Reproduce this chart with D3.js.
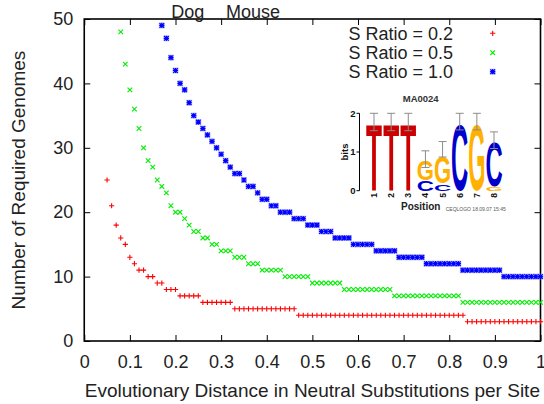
<!DOCTYPE html>
<html>
<head>
<meta charset="utf-8">
<script src="https://cdn.jsdelivr.net/npm/d3@7"></script>
<style>
body { margin: 0; background: #fff; }
svg { display: block; font-family: "Liberation Sans", Arial, Helvetica, sans-serif; }
</style>
</head>
<body>
<svg id="chart" width="544" height="404"></svg>
<script>
var distances = [
  0.05, 0.06, 0.07, 0.08, 0.09, 0.10, 0.11, 0.12, 0.13, 0.14,
  0.15, 0.16, 0.17, 0.18, 0.19, 0.20, 0.21, 0.22, 0.23, 0.24,
  0.25, 0.26, 0.27, 0.28, 0.29, 0.30, 0.31, 0.32, 0.33, 0.34,
  0.35, 0.36, 0.37, 0.38, 0.39, 0.40, 0.41, 0.42, 0.43, 0.44,
  0.45, 0.46, 0.47, 0.48, 0.49, 0.50, 0.51, 0.52, 0.53, 0.54,
  0.55, 0.56, 0.57, 0.58, 0.59, 0.60, 0.61, 0.62, 0.63, 0.64,
  0.65, 0.66, 0.67, 0.68, 0.69, 0.70, 0.71, 0.72, 0.73, 0.74,
  0.75, 0.76, 0.77, 0.78, 0.79, 0.80, 0.81, 0.82, 0.83, 0.84,
  0.85, 0.86, 0.87, 0.88, 0.89, 0.90, 0.91, 0.92, 0.93, 0.94,
  0.95, 0.96, 0.97, 0.98, 0.99, 1.00
];
var ratio02 = [
  25, 21, 18, 16, 15, 13, 12, 11, 11, 10,
  10, 9, 9, 8, 8, 8, 7, 7, 7, 7,
  7, 6, 6, 6, 6, 6, 6, 6, 5, 5,
  5, 5, 5, 5, 5, 5, 5, 5, 5, 5,
  5, 5, 4, 4, 4, 4, 4, 4, 4, 4,
  4, 4, 4, 4, 4, 4, 4, 4, 4, 4,
  4, 4, 4, 4, 4, 4, 4, 4, 4, 4,
  4, 4, 4, 4, 4, 4, 4, 4, 4, 3,
  3, 3, 3, 3, 3, 3, 3, 3, 3, 3,
  3, 3, 3, 3, 3, 3
];
var ratio05 = [
  null, null, null, 48, 43, 39, 36, 33, 30, 28,
  27, 25, 24, 23, 21, 20, 20, 19, 18, 17,
  17, 16, 16, 15, 15, 14, 14, 14, 13, 13,
  13, 12, 12, 12, 11, 11, 11, 11, 11, 10,
  10, 10, 10, 10, 10, 9, 9, 9, 9, 9,
  9, 9, 8, 8, 8, 8, 8, 8, 8, 8,
  8, 8, 8, 7, 7, 7, 7, 7, 7, 7,
  7, 7, 7, 7, 7, 7, 7, 7, 6, 6,
  6, 6, 6, 6, 6, 6, 6, 6, 6, 6,
  6, 6, 6, 6, 6, 6
];
var ratio10 = [
  null, null, null, null, null, null, null, null, null, null,
  null, null, 49, 47, 44, 42, 40, 39, 37, 35,
  34, 33, 32, 31, 30, 29, 28, 27, 26, 26,
  25, 24, 24, 23, 22, 22, 21, 21, 20, 20,
  20, 19, 19, 19, 18, 18, 18, 17, 17, 17,
  16, 16, 16, 16, 15, 15, 15, 15, 15, 14,
  14, 14, 14, 14, 13, 13, 13, 13, 13, 13,
  12, 12, 12, 12, 12, 12, 12, 12, 11, 11,
  11, 11, 11, 11, 11, 11, 11, 10, 10, 10,
  10, 10, 10, 10, 10, 10
];
var seriesNames = ["S Ratio = 0.2", "S Ratio = 0.5", "S Ratio = 1.0"];
var xTicks = [0, 0.1, 0.2, 0.3, 0.4, 0.5, 0.6, 0.7, 0.8, 0.9, 1];
var yTicks = [0, 10, 20, 30, 40, 50];
var topLabels = ["Dog", "Mouse"];
var topLabelDistances = [0.227, 0.370];

// sequence logo inset (letters stacked bottom to top, heights in bits)
var logoTitle = "MA0024";
var logoPositions = [1, 2, 3, 4, 5, 6, 7, 8];
var logoStacks = [
  [["T", 1.76]],
  [["T", 1.76]],
  [["T", 1.76]],
  [["C", 0.27], ["G", 0.53]],
  [["C", 0.19], ["G", 0.70]],
  [["C", 1.76]],
  [["G", 1.76]],
  [["G", 0.10], ["C", 1.21]]
];
var logoErrLow = [1.55, 1.55, 1.55, 0.60, 0.87, 1.57, 1.57, 1.09];
var logoErrHigh = [2.0, 2.0, 2.0, 1.03, 1.27, 2.0, 2.0, 1.52];
var logoTicks = [0, 1, 2];

var seriesColors = ["#ff0000", "#00ee00", "#0000ff"];
var letterColors = { T: "#cc0000", C: "#0000cc", G: "#ffb000" };
var textColor = "#222";

var svg = d3.select("#chart");
var plotL = 84.25, plotR = 540.5, plotT = 19, plotB = 341;

var x = d3.scaleLinear().domain([0, 1]).range([plotL, plotR]);
var y = d3.scaleLinear().domain([0, 50]).range([plotB, plotT]);

function styleAxis(g) {
  g.attr("font-size", 18).attr("font-family", null);
  g.select(".domain").remove();
  g.selectAll(".tick line").attr("stroke", "#000").attr("stroke-width", 1);
  g.selectAll(".tick text").attr("fill", textColor);
}

svg.append("g")
    .attr("transform", "translate(0," + plotB + ")")
    .call(d3.axisBottom(x).tickValues(xTicks).tickFormat(d3.format("~g"))
      .tickSizeInner(-6).tickSizeOuter(0).tickPadding(14))
    .call(styleAxis);

svg.append("g")
    .attr("transform", "translate(" + plotL + ",0)")
    .call(d3.axisLeft(y).tickValues(yTicks)
      .tickSizeInner(-6).tickSizeOuter(0).tickPadding(11))
    .call(styleAxis);

svg.append("g")
    .attr("transform", "translate(0," + plotT + ")")
    .call(d3.axisTop(x).tickValues(xTicks).tickFormat("")
      .tickSizeInner(-6).tickSizeOuter(0))
    .call(styleAxis);

svg.append("g")
    .attr("transform", "translate(" + plotR + ",0)")
    .call(d3.axisRight(y).tickValues(yTicks).tickFormat("")
      .tickSizeInner(-6).tickSizeOuter(0))
    .call(styleAxis);

svg.append("rect")
    .attr("x", plotL).attr("y", plotT)
    .attr("width", plotR - plotL).attr("height", plotB - plotT)
    .attr("fill", "none").attr("stroke", "#000").attr("stroke-width", 1.6);

svg.append("text")
    .attr("x", (plotL + plotR) / 2).attr("y", 390)
    .attr("dy", "0.35em")
    .attr("text-anchor", "middle")
    .attr("font-size", 19).attr("fill", textColor)
    .text("Evolutionary Distance in Neutral Substitutions per Site");

svg.append("text")
    .attr("transform", "translate(18," + (plotT + plotB) / 2 + ") rotate(-90)")
    .attr("dy", "0.35em")
    .attr("text-anchor", "middle")
    .attr("font-size", 19).attr("fill", textColor)
    .text("Number of Required Genomes");

svg.selectAll(".toplabel")
    .data(topLabels)
    .enter().append("text")
    .attr("class", "toplabel")
    .attr("x", function(d, i) { return x(topLabelDistances[i]); })
    .attr("y", 18)
    .attr("text-anchor", "middle")
    .attr("font-size", 18).attr("fill", textColor)
    .text(function(d) { return d; });

var plusPath = "M-2.6,0H2.6M0,-2.6V2.6";
var crossPath = "M-2.3,-2.3L2.3,2.3M-2.3,2.3L2.3,-2.3";
var starPath = plusPath + crossPath;

function drawMarker(g, kind, color) {
  if (kind == 2) {
    g.append("rect")
        .attr("x", -3).attr("y", -3).attr("width", 6).attr("height", 6)
        .attr("fill", "#8a90ff").attr("opacity", 0.5);
  }
  g.append("path")
      .attr("d", kind == 0 ? plusPath : (kind == 1 ? crossPath : starPath))
      .attr("fill", "none")
      .attr("stroke", color)
      .attr("stroke-width", kind == 2 ? 1.2 : 1.1);
}

var allSeries = [ratio02, ratio05, ratio10];
allSeries.forEach(function(values, s) {
  var pts = [];
  for (var i = 0; i < distances.length; i++) {
    if (values[i] != null) pts.push({ d: distances[i], v: values[i] });
  }
  var grp = svg.append("g");
  grp.selectAll("g")
      .data(pts)
      .enter().append("g")
      .attr("transform", function(p) { return "translate(" + x(p.d) + "," + y(p.v) + ")"; })
      .each(function() { drawMarker(d3.select(this), s, seriesColors[s]); });
});

var legendY = [33.3, 52.7, 71.7];
seriesNames.forEach(function(name, s) {
  svg.append("text")
      .attr("x", 453).attr("y", legendY[s])
      .attr("dy", "0.35em")
      .attr("text-anchor", "end")
      .attr("font-size", 18).attr("fill", textColor)
      .text(name);
  var m = svg.append("g").attr("transform", "translate(492.7," + legendY[s] + ")");
  drawMarker(m, s, seriesColors[s]);
});

// logo
var logo = svg.append("g").attr("font-weight", "bold");
var lx = d3.scaleLinear().domain([1, 8]).range([374, 494]);
var ly = d3.scaleLinear().domain([0, 2]).range([190.7, 113.3]);
var colW = 15.5;

logo.append("text")
    .attr("x", 420.7).attr("y", 98.3).attr("dy", "0.35em")
    .attr("text-anchor", "middle").attr("font-size", 9.5).attr("fill", "#333")
    .text(logoTitle);

logo.append("line")
    .attr("x1", 359.5).attr("x2", 359.5)
    .attr("y1", ly(2)).attr("y2", ly(0))
    .attr("stroke", "#000").attr("stroke-width", 1);

logoTicks.forEach(function(t) {
  logo.append("line")
      .attr("x1", 356.5).attr("x2", 359.5)
      .attr("y1", ly(t)).attr("y2", ly(t))
      .attr("stroke", "#000").attr("stroke-width", 1);
  logo.append("text")
      .attr("x", 355.5).attr("y", ly(t)).attr("dy", "0.35em")
      .attr("text-anchor", "end").attr("font-size", 9.5).attr("fill", "#111")
      .text(t);
});

logo.append("text")
    .attr("transform", "translate(345," + ly(1) + ") rotate(-90)")
    .attr("dy", "0.35em")
    .attr("text-anchor", "middle").attr("font-size", 9.5).attr("fill", "#111")
    .text("bits");

function drawLetter(g, ch, cx, yBottom, w, h) {
  var t = g.append("text")
      .attr("font-size", 100).attr("font-weight", "bold")
      .attr("text-anchor", "middle")
      .attr("fill", letterColors[ch])
      .text(ch);
  var adv = t.node().getComputedTextLength();
  var round = ch != "T";
  var capH = round ? 72.8 : 71.6;
  var below = round ? 1.2 : 0;
  var sy = h / (capH + below);
  var sx = w / (adv * (round ? 0.9 : 0.97));
  t.attr("transform", "translate(" + cx + "," + (yBottom - below * sy) + ") scale(" + sx + "," + sy + ")");
}

logoPositions.forEach(function(p, i) {
  var cx = lx(p);
  var base = 0;
  logoStacks[i].forEach(function(l) {
    var yb = ly(base), yt = ly(base + l[1]);
    drawLetter(logo, l[0], cx, yb, colW, yb - yt);
    base += l[1];
  });
  var e = logo.append("g").attr("stroke", "#8c8c8c").attr("stroke-width", 1);
  e.append("line").attr("x1", cx).attr("x2", cx).attr("y1", ly(logoErrLow[i])).attr("y2", ly(logoErrHigh[i]));
  e.append("line").attr("x1", cx - 4).attr("x2", cx + 4).attr("y1", ly(logoErrLow[i])).attr("y2", ly(logoErrLow[i]));
  e.append("line").attr("x1", cx - 4).attr("x2", cx + 4).attr("y1", ly(logoErrHigh[i])).attr("y2", ly(logoErrHigh[i]));

  logo.append("text")
      .attr("transform", "translate(" + cx + ",193) rotate(-90)")
      .attr("dy", "0.35em")
      .attr("text-anchor", "end").attr("font-size", 8.5).attr("fill", "#111")
      .text(p);
});

logo.append("text")
    .attr("x", 420.7).attr("y", 206).attr("dy", "0.35em")
    .attr("text-anchor", "middle").attr("font-size", 10).attr("fill", "#222")
    .text("Position");

svg.append("text")
    .attr("x", 445.7).attr("y", 209).attr("dy", "0.35em")
    .attr("font-size", 5).attr("fill", "#555")
    .text("CEQLOGO 18.09.07 15:45");
</script>
</body>
</html>
